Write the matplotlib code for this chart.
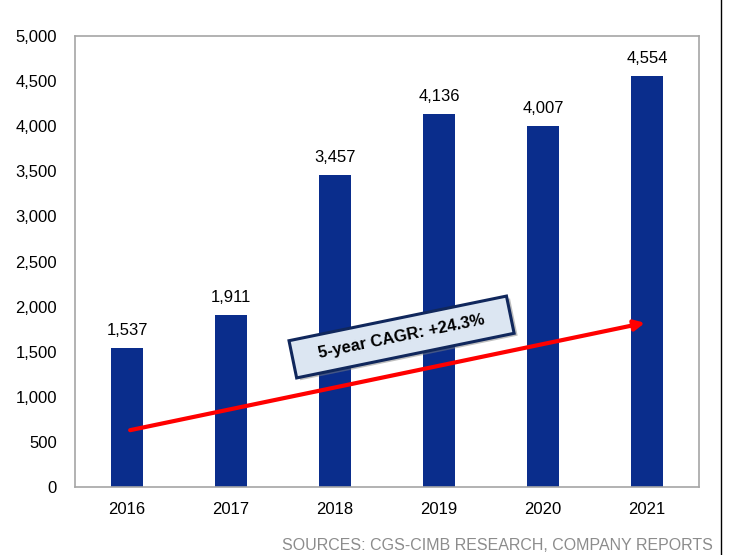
import matplotlib.pyplot as plt
import matplotlib.lines as mlines
from matplotlib.patches import Rectangle
from matplotlib.transforms import Affine2D, ScaledTranslation

plt.rcParams['font.family'] = ['Liberation Sans', 'DejaVu Sans']

years = ['2016', '2017', '2018', '2019', '2020', '2021']
values = [1537, 1911, 3457, 4136, 4007, 4554]
cagr_label = '5-year CAGR: +24.3%'
source = 'SOURCES: CGS-CIMB RESEARCH, COMPANY REPORTS'

fig = plt.figure(figsize=(7.3, 5.55), dpi=100)
ax = fig.add_axes([75/730, 1 - 487/555, 624/730, 451/555])

x = range(len(years))
ax.bar(x, values, width=0.31, color='#0A2D8C')
for xi, v in zip(x, values):
    ax.text(xi, v + 110, f'{v:,}', ha='center', va='bottom', fontsize=12)

ax.set_xlim(-0.5, len(years) - 0.5)
ax.set_ylim(0, 5000)
ax.set_yticks(range(0, 5001, 500))
ax.set_yticklabels([f'{t:,}' for t in range(0, 5001, 500)])
ax.set_xticks(list(x))
ax.set_xticklabels(years)
ax.tick_params(length=0, labelsize=12)
ax.tick_params(axis='x', pad=11)
ax.tick_params(axis='y', pad=13)
for s in ax.spines.values():
    s.set_color('#A6A6A6')
    s.set_linewidth(1.2)

# trend arrow
ax.annotate('', xy=(4.98, 1820), xytext=(0.03, 630),
            arrowprops=dict(arrowstyle='-|>', color='#FF0000', lw=3,
                            mutation_scale=15, shrinkA=0, shrinkB=0))

# CAGR label box, rotated along the arrow
cx, cy, ang = 2.64, 1663, 11.6
box_tr = (Affine2D().rotate_deg(ang).scale(fig.dpi)
          + ScaledTranslation(cx, cy, ax.transData))
ax.add_patch(Rectangle((-1.11 + 0.03, -0.19 - 0.03), 2.22, 0.38, transform=box_tr,
                       fc='#7F7F7F', ec='none', alpha=0.5, zorder=4))
ax.add_patch(Rectangle((-1.11, -0.19), 2.22, 0.38, transform=box_tr,
                       fc='#DCE6F2', ec='#10275C', lw=2.2, zorder=5))
ax.text(cx, cy, cagr_label, rotation=ang, rotation_mode='anchor',
        ha='center', va='center', fontsize=12, fontweight='bold', zorder=6)

fig.text(713/730, 1 - 545/555, source, ha='right', va='center',
         fontsize=11.5, color='#8C8C8C')
fig.add_artist(mlines.Line2D([721/730, 721/730], [0, 1], color='black', lw=1))

fig.savefig('out.png', dpi=100)
